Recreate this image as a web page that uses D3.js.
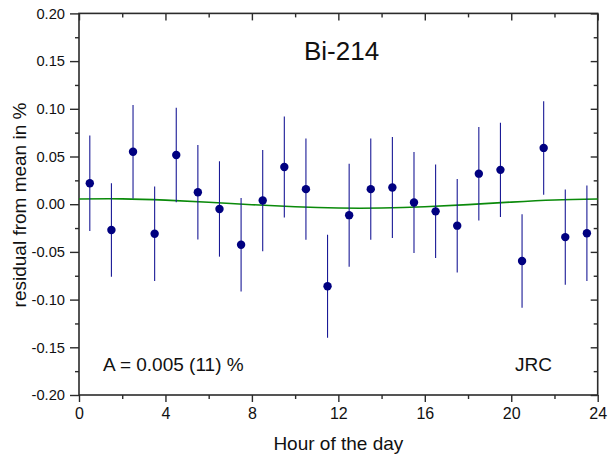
<!DOCTYPE html>
<html><head><meta charset="utf-8">
<script src="https://cdn.jsdelivr.net/npm/d3@7"></script>
<style>body{margin:0;background:#fff}svg{display:block}text{font-family:"Liberation Sans",Arial,sans-serif;fill:#111}</style>
</head><body><svg id="c" width="611" height="456"></svg>
<script>
const hours = [0.5,1.5,2.5,3.5,4.5,5.5,6.5,7.5,8.5,9.5,10.5,11.5,12.5,13.5,14.5,15.5,16.5,17.5,18.5,19.5,20.5,21.5,22.5,23.5];
const residuals = [0.022,-0.027,0.055,-0.031,0.0515,0.0125,-0.005,-0.0425,0.0038,0.039,0.0158,-0.086,-0.0115,0.0158,0.0175,0.0018,-0.0075,-0.0225,0.032,0.036,-0.0595,0.059,-0.0345,-0.0305];
const errors = [0.050,0.049,0.049,0.0495,0.0495,0.0495,0.050,0.049,0.053,0.053,0.053,0.054,0.054,0.053,0.053,0.053,0.049,0.049,0.049,0.0495,0.049,0.049,0.050,0.050];
const fitHours = [0,2,4,6,8,10,12,14,16,18,20,22,24];
const fitValues = [0.0055,0.0056,0.0043,0.0021,-0.0005,-0.0027,-0.0040,-0.0040,-0.0027,-0.0004,0.0022,0.0044,0.0055];
const xTicks = [0,4,8,12,16,20,24];
const yTicks = [-0.20,-0.15,-0.10,-0.05,0.00,0.05,0.10,0.15,0.20];

const L=79, R=597.7, T=13.4, B=395;
const svg = d3.select("#c");
const x = d3.scaleLinear().domain([0,24]).range([L,R]);
const y = d3.scaleLinear().domain([-0.2,0.2]).range([B,T]);
const axCol="#2b2b2b";
const yFmt = d => d.toFixed(2);
const xMinor = d3.range(2,24,4);
const yMinor = d3.range(-0.175,0.2,0.05);

svg.append("g").attr("class","xb").attr("transform",`translate(0,${B})`)
  .call(d3.axisBottom(x).tickValues(xTicks).tickSize(7).tickPadding(6).tickFormat(d3.format("d")));
svg.append("g").attr("transform",`translate(0,${B})`)
  .call(d3.axisBottom(x).tickValues(xMinor).tickSize(4).tickFormat(""));
svg.append("g").attr("class","yl").attr("transform",`translate(${L},0)`)
  .call(d3.axisLeft(y).tickValues(yTicks).tickSize(9).tickPadding(5).tickFormat(yFmt));
svg.append("g").attr("transform",`translate(${L},0)`)
  .call(d3.axisLeft(y).tickValues(yMinor).tickSize(4).tickFormat(""));
svg.append("g").attr("transform",`translate(0,${T})`)
  .call(d3.axisBottom(x).tickValues(xTicks).tickSize(7).tickFormat(""));
svg.append("g").attr("transform",`translate(0,${T})`)
  .call(d3.axisBottom(x).tickValues(xMinor).tickSize(4).tickFormat(""));
svg.append("g").attr("transform",`translate(${R},0)`)
  .call(d3.axisLeft(y).tickValues(yTicks).tickSize(7).tickFormat(""));
svg.append("g").attr("transform",`translate(${R},0)`)
  .call(d3.axisLeft(y).tickValues(yMinor).tickSize(4).tickFormat(""));

svg.selectAll(".domain").remove();
svg.selectAll(".tick line").attr("stroke",axCol).attr("stroke-width",1.4);
svg.selectAll(".tick text").style("fill","#111").style("font-family","'Liberation Sans', Arial, sans-serif");
svg.selectAll(".yl .tick text").style("font-size","14.7px");
svg.selectAll(".xb .tick text").style("font-size","16px");
svg.append("rect").attr("x",L).attr("y",T).attr("width",R-L).attr("height",B-T)
  .attr("fill","none").attr("stroke",axCol).attr("stroke-width",1.6);

const fitLine = d3.line().x(d=>x(d[0])).y(d=>y(d[1])).curve(d3.curveNatural);
svg.append("path").datum(fitHours.map((h,i)=>[h,fitValues[i]]))
  .attr("d",fitLine)
  .attr("fill","none").attr("stroke","#0a8a0a").attr("stroke-width",1.6);

svg.append("g").selectAll("line").data(hours).join("line")
  .attr("x1",d=>x(d)).attr("x2",d=>x(d))
  .attr("y1",(d,i)=>y(residuals[i]-errors[i])).attr("y2",(d,i)=>y(residuals[i]+errors[i]))
  .attr("stroke","#1a1a96").attr("stroke-width",1.1);
svg.append("g").selectAll("circle").data(hours).join("circle")
  .attr("cx",d=>x(d)).attr("cy",(d,i)=>y(residuals[i])).attr("r",4.2).attr("fill","#000080");

const txt = (xx,yy,fs,s,anchor) => svg.append("text").attr("x",xx).attr("y",yy)
  .style("font-size",fs+"px").attr("text-anchor",anchor||"start").text(s);
txt(304,60,26,"Bi-214");
txt(103,371,19,"A = 0.005 (11) %");
txt(515,371,19,"JRC");
txt((L+R)/2,450,19,"Hour of the day","middle");
svg.append("text").attr("transform",`translate(26,205) rotate(-90)`).style("font-size","19px").attr("text-anchor","middle").text("residual from mean in %");
</script></body></html>
